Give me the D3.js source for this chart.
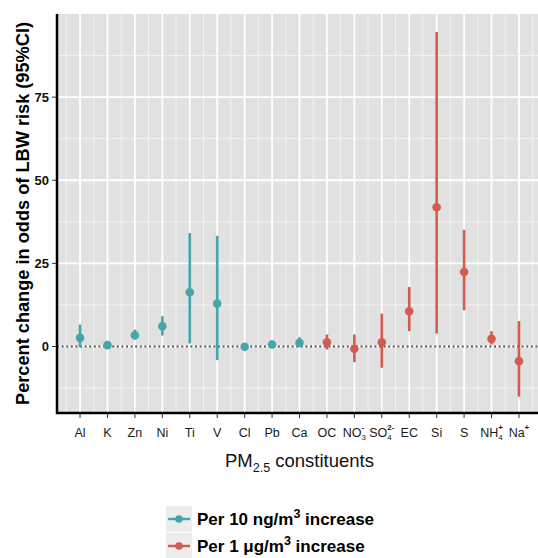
<!DOCTYPE html>
<html>
<head>
<meta charset="utf-8">
<script src="https://cdn.jsdelivr.net/npm/d3@7"></script>
<style>
  body { margin: 0; background: #fff; }
  text { font-family: "Liberation Sans", Arial, sans-serif; }
</style>
</head>
<body>
<div id="chart"></div>
<script>
var width = 538, height = 558;

// constituents, with sub/superscript parts for the labels
var categories = ["Al","K","Zn","Ni","Ti","V","Cl","Pb","Ca","OC","NO3","SO4","EC","Si","S","NH4","Na"];
var labelMain = ["Al","K","Zn","Ni","Ti","V","Cl","Pb","Ca","OC","NO","SO","EC","Si","S","NH","Na"];
var labelSub  = ["","","","","","","","","","","3","4","","","","4",""];
var labelSup  = ["","","","","","","","","","","-","2-","","","","+","+"];
var groups = ["ng","ng","ng","ng","ng","ng","ng","ng","ng","ug","ug","ug","ug","ug","ug","ug","ug"];
var estimate = [2.6, 0.4, 3.4, 6.1, 16.3, 12.9, -0.1, 0.6, 1.1, 1.3, -0.7, 1.3, 10.6, 41.9, 22.4, 2.3, -4.4];
var lower    = [-0.3, -0.4, 2.1, 3.3, 0.9, -4.1, -0.8, -0.4, -0.2, -0.9, -4.7, -6.4, 4.6, 3.9, 10.9, 0.6, -15.1];
var upper    = [6.6, 1.2, 5.1, 9.1, 34.1, 33.3, 0.6, 1.8, 2.8, 3.6, 3.6, 9.9, 17.9, 94.6, 35.1, 4.6, 7.6];
var yTicks = [0, 25, 50, 75];
var yMinor = [-12.5, 12.5, 37.5, 62.5, 87.5];
var legendGroups = ["ng","ug"];
var colors = {ng: "#45a6a9", ug: "#d35c52"};

var data = categories.map(function(c, i) {
  return {cat: c, grp: groups[i], est: estimate[i], lo: lower[i], hi: upper[i]};
});

var panel = {left: 57, top: 14, right: 542, bottom: 413};

var x = d3.scalePoint().domain(categories).range([panel.left, panel.right]).padding(0.84);
var y = d3.scaleLinear().domain([-20, 100]).range([panel.bottom, panel.top]);

var svg = d3.select("#chart").append("svg")
  .attr("width", width).attr("height", height);

// panel background
svg.append("rect")
  .attr("x", panel.left).attr("y", panel.top)
  .attr("width", panel.right - panel.left).attr("height", panel.bottom - panel.top)
  .attr("fill", "#e1e1e1");

var grid = svg.append("g");
// minor grid
grid.selectAll(".hminor").data(yMinor).enter().append("line")
  .attr("x1", panel.left).attr("x2", panel.right)
  .attr("y1", d => y(d)).attr("y2", d => y(d))
  .attr("stroke", "#f4f4f4").attr("stroke-width", 0.9);
var step = x.step();
var vMinor = categories.map(c => x(c) - step / 2).concat([x(categories[categories.length - 1]) + step / 2]);
grid.selectAll(".vminor").data(vMinor).enter().append("line")
  .attr("x1", d => d).attr("x2", d => d)
  .attr("y1", panel.top).attr("y2", panel.bottom)
  .attr("stroke", "#f4f4f4").attr("stroke-width", 0.9);
// major grid
grid.selectAll(".hmajor").data(yTicks).enter().append("line")
  .attr("x1", panel.left).attr("x2", panel.right)
  .attr("y1", d => y(d)).attr("y2", d => y(d))
  .attr("stroke", "#fff").attr("stroke-width", 1.8);
grid.selectAll(".vmajor").data(categories).enter().append("line")
  .attr("x1", d => x(d)).attr("x2", d => x(d))
  .attr("y1", panel.top).attr("y2", panel.bottom)
  .attr("stroke", "#fff").attr("stroke-width", 1.8);

// reference line at zero
svg.append("line")
  .attr("x1", panel.left).attr("x2", panel.right)
  .attr("y1", y(0)).attr("y2", y(0))
  .attr("stroke", "#555").attr("stroke-width", 2)
  .attr("stroke-dasharray", "2,2.6");

// error bars and points
var marks = svg.append("g");
marks.selectAll(".ci").data(data).enter().append("line")
  .attr("x1", d => x(d.cat)).attr("x2", d => x(d.cat))
  .attr("y1", d => y(d.lo)).attr("y2", d => y(d.hi))
  .attr("stroke", d => colors[d.grp]).attr("stroke-width", 2.6);
marks.selectAll(".pt").data(data).enter().append("circle")
  .attr("cx", d => x(d.cat)).attr("cy", d => y(d.est))
  .attr("r", 4.3)
  .attr("fill", d => colors[d.grp]);

// axis lines
svg.append("line")
  .attr("x1", panel.left).attr("x2", panel.left)
  .attr("y1", panel.top).attr("y2", panel.bottom + 1)
  .attr("stroke", "#000").attr("stroke-width", 2.5);
svg.append("line")
  .attr("x1", panel.left - 1).attr("x2", panel.right)
  .attr("y1", panel.bottom).attr("y2", panel.bottom)
  .attr("stroke", "#000").attr("stroke-width", 2.5);

// y ticks
var yAx = svg.append("g");
yAx.selectAll("line").data(yTicks).enter().append("line")
  .attr("x1", panel.left - 5).attr("x2", panel.left - 1)
  .attr("y1", d => y(d)).attr("y2", d => y(d))
  .attr("stroke", "#333").attr("stroke-width", 1);
yAx.selectAll("text").data(yTicks).enter().append("text")
  .attr("x", panel.left - 8).attr("y", d => y(d))
  .attr("dy", "0.35em").attr("text-anchor", "end")
  .attr("font-size", 13).attr("font-weight", "bold").attr("fill", "#111")
  .text(d => d);

// x ticks
var xAx = svg.append("g");
xAx.selectAll("line").data(categories).enter().append("line")
  .attr("x1", d => x(d)).attr("x2", d => x(d))
  .attr("y1", panel.bottom + 1).attr("y2", panel.bottom + 5)
  .attr("stroke", "#333").attr("stroke-width", 1);
categories.forEach(function(c, i) {
  var g = xAx.append("g");
  var t = g.append("text")
    .attr("y", 437).attr("font-size", 12.5).attr("fill", "#1a1a1a")
    .text(labelMain[i]);
  var w = t.node().getComputedTextLength();
  var extra = 0;
  if (labelSub[i]) {
    var s = g.append("text").attr("x", w).attr("y", 440)
      .attr("font-size", 8).attr("fill", "#1a1a1a").text(labelSub[i]);
    extra = Math.max(extra, s.node().getComputedTextLength());
  }
  if (labelSup[i]) {
    var p = g.append("text").attr("x", w).attr("y", 430)
      .attr("font-size", 8).attr("font-weight", "bold").attr("fill", "#1a1a1a").text(labelSup[i]);
    extra = Math.max(extra, p.node().getComputedTextLength());
  }
  g.attr("transform", "translate(" + (x(c) - (w + extra) / 2) + ",0)");
});

// axis titles
var xt = svg.append("text")
  .attr("x", (panel.left + panel.right) / 2).attr("y", 467)
  .attr("text-anchor", "middle").attr("font-size", 18.5).attr("fill", "#111");
xt.append("tspan").text("PM");
xt.append("tspan").attr("font-size", 12.5).attr("dy", 5).text("2.5");
xt.append("tspan").attr("dy", -5).text(" constituents");

svg.append("text")
  .attr("transform", "translate(29," + ((panel.top + panel.bottom) / 2) + ") rotate(-90)")
  .attr("text-anchor", "middle").attr("font-size", 18.2).attr("font-weight", "bold").attr("fill", "#000")
  .text("Percent change in odds of LBW risk (95%CI)");

// legend
var legendLabels = [["Per 10 ng/m", "3", " increase"], ["Per 1 \u03bcg/m", "3", " increase"]];
var leg = svg.append("g");
legendGroups.forEach(function(gk, i) {
  var cy = 519 + i * 27;
  leg.append("rect").attr("x", 166).attr("y", cy - 13).attr("width", 26).attr("height", 26)
    .attr("fill", "#ececec");
  leg.append("line").attr("x1", 168).attr("x2", 190).attr("y1", cy).attr("y2", cy)
    .attr("stroke", colors[gk]).attr("stroke-width", 2.4);
  leg.append("circle").attr("cx", 179).attr("cy", cy).attr("r", 3.8).attr("fill", colors[gk]);
  var t = leg.append("text").attr("x", 197).attr("y", cy + 6)
    .attr("font-size", 17).attr("font-weight", "bold").attr("fill", "#000");
  t.append("tspan").text(legendLabels[i][0]);
  t.append("tspan").attr("font-size", 12.5).attr("dy", -7).text(legendLabels[i][1]);
  t.append("tspan").attr("dy", 7).text(legendLabels[i][2]);
});
</script>
</body>
</html>
